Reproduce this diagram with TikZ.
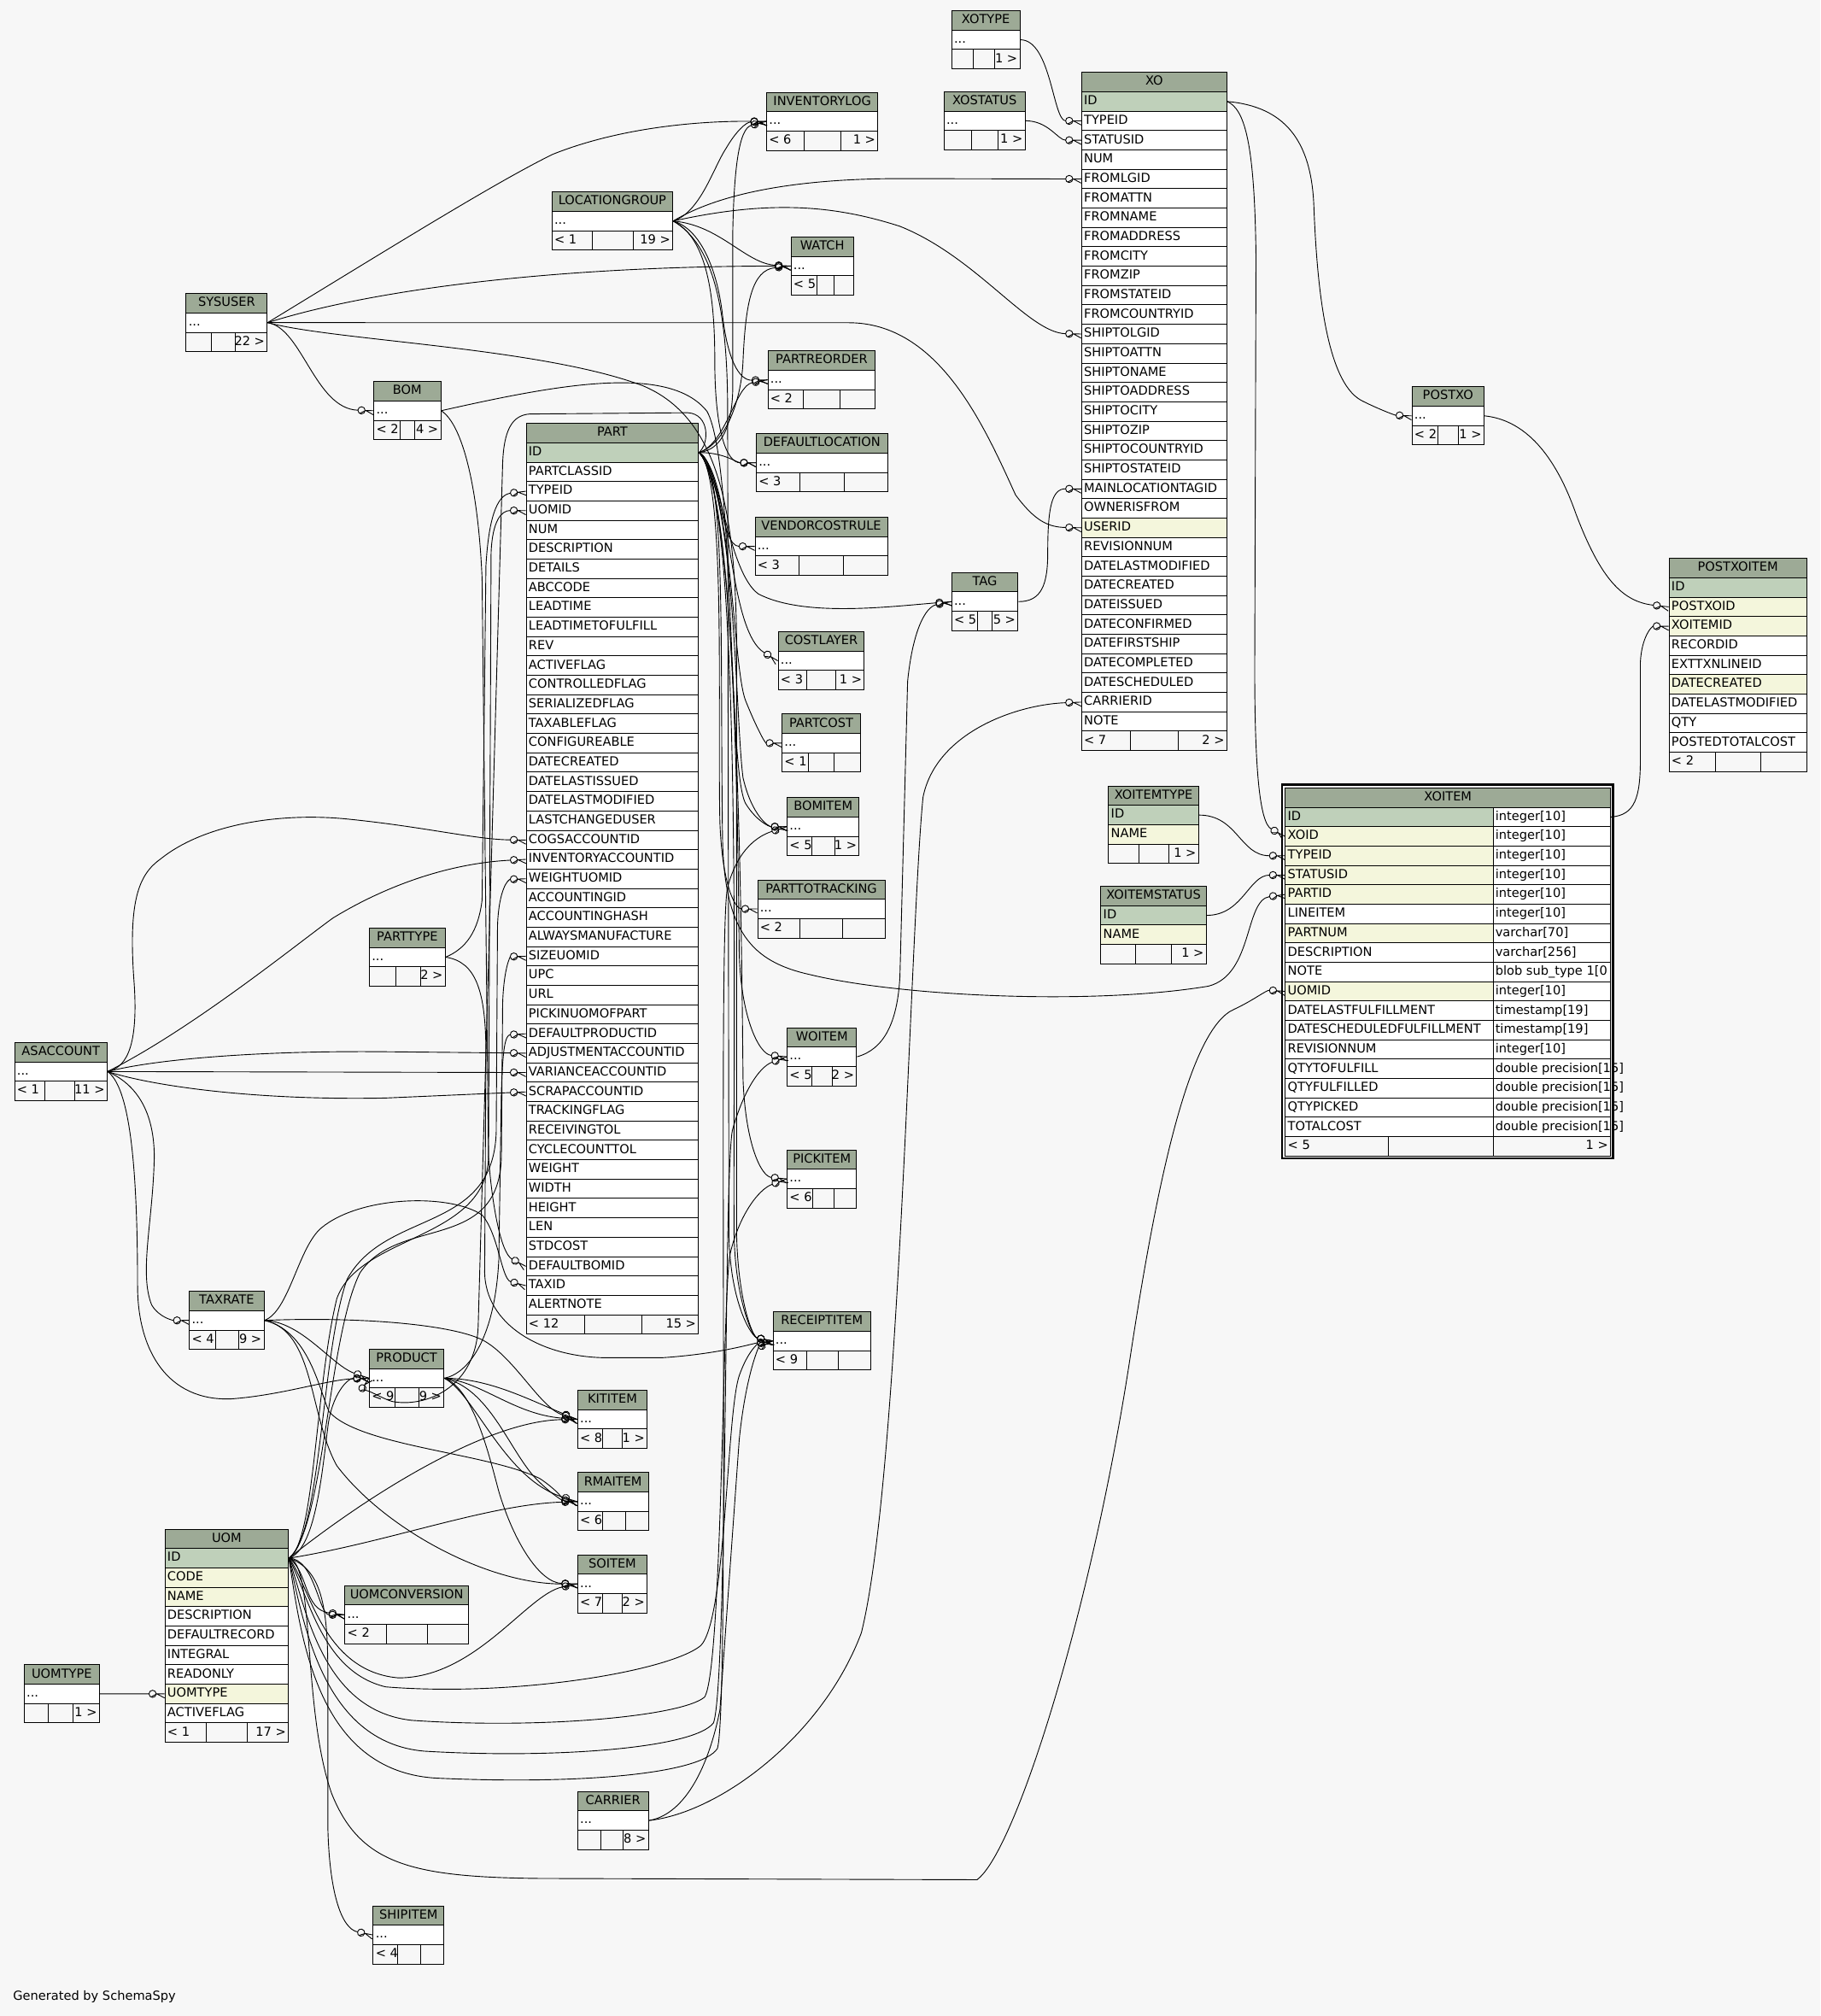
\documentclass[tikz,border=0pt]{standalone}
\usepackage{fontspec}
\setmainfont{DejaVu Sans}
\definecolor{bgc}{HTML}{F7F7F7}
\definecolor{hdc}{HTML}{9DAA96}
\definecolor{pkc}{HTML}{BFD0BA}
\definecolor{ixc}{HTML}{F4F6DC}
\tikzset{
 tb/.style={draw=black, line width=0.66pt, inner sep=0pt, minimum height=15.07pt, anchor=north west},
 txt/.style={inner sep=0pt, font=\fontsize{9.7pt}{11pt}\selectfont, text height=7.1pt, text depth=2pt},
 fk/.style={draw=black, line width=0.6pt, shorten >=12pt},
 fkm/.style={pos=1, sloped, allow upside down},
 crowfk/.pic={
   \draw[line width=0.6pt] (-9.3,0) circle[radius=2.8pt];
   \draw[line width=0.6pt] (-6.5,0) -- (0,0) (-6,0) -- (0,3.2) (-6,0) -- (0,-3.2);}
}
\newcommand\tfoot[9]{%
 \pgfmathsetmacro\fy{#3+15.07*(#5+1)}%
 \node[tb, fill=bgc, minimum width=#4pt] (#1-foot) at (#2,\fy) {};
 \draw[line width=0.66pt] ({#2+#6*#4},\fy) -- ++(0,15.07) ({#2+#7*#4},\fy) -- ++(0,15.07);
 \node[txt, anchor=west] (#1-fl) at ([xshift=2pt]#1-foot.west) {#8};
 \node[txt, anchor=east] (#1-fr) at ([xshift=-2pt]#1-foot.east) {#9};
}
\newcommand\stbl[8]{%
 \node[tb, fill=hdc, minimum width=#4pt] (#1) at (#2,#3) {};
 \node[txt] (#1-t) at (#1.center) {#1};
 \node[tb, fill=white, minimum width=#4pt] (#1-r) at (#2,{#3+15.07}) {};
 \node[txt, anchor=west] (#1-r-t) at ([xshift=2pt]#1-r.west) {...};
 \tfoot{#1}{#2}{#3}{#4}{1}{#5}{#6}{#7}{#8}%
}
\newcommand\tbl[6]{%
 \node[tb, fill=hdc, minimum width=#4pt] (#1) at (#2,#3) {};
 \node[txt] (#1-t) at (#1.center) {#5};
 \foreach \rk/\rc [count=\ri] in {#6} {
  \node[tb, fill=\rc, minimum width=#4pt] (#1-\rk) at (#2,{#3+15.07*\ri}) {};
  \node[txt, anchor=west] (#1-\rk-t) at ([xshift=2pt]#1-\rk.west) {\rk};
 }
}
\begin{document}
\begin{tikzpicture}[x=1pt,y=-1pt]
\fill[bgc] (0,0) rectangle (1416,1568);
\useasboundingbox (0,0) rectangle (1416,1568);

% ---------------- tables ----------------
\stbl{XOTYPE}{740}{8}{53}{.328}{.63}{}{1 >}
\stbl{XOSTATUS}{734}{71}{63}{.34}{.674}{}{1 >}
\stbl{INVENTORYLOG}{596}{71.5}{86.5}{.338}{.669}{< 6}{1 >}
\stbl{LOCATIONGROUP}{429}{149}{94}{.341}{.674}{< 1}{19 >}
\stbl{WATCH}{615}{184}{48.5}{.419}{.703}{< 5}{}
\stbl{SYSUSER}{144.5}{228}{63}{.318}{.613}{}{22 >}
\stbl{PARTREORDER}{597}{272.5}{83.5}{.336}{.672}{< 2}{}
\stbl{BOM}{290.5}{296.5}{52}{.401}{.613}{< 2}{4 >}
\stbl{POSTXO}{1098}{300.5}{56}{.365}{.656}{< 2}{1 >}
\stbl{DEFAULTLOCATION}{588}{337}{102}{.338}{.671}{< 3}{}
\stbl{VENDORCOSTRULE}{587}{402}{103}{.338}{.671}{< 3}{}
\stbl{TAG}{740}{445}{51.5}{.402}{.615}{< 5}{5 >}
\stbl{COSTLAYER}{605}{491}{67}{.337}{.676}{< 3}{1 >}
\stbl{PARTCOST}{608}{555}{61}{.344}{.67}{< 1}{}
\stbl{BOMITEM}{612}{620}{56}{.353}{.667}{< 5}{1 >}
\stbl{PARTTOTRACKING}{589}{684}{99}{.336}{.674}{< 2}{}
\stbl{PARTTYPE}{287}{721.5}{59}{.35}{.677}{}{2 >}
\stbl{WOITEM}{612}{799}{54}{.361}{.659}{< 5}{2 >}
\stbl{ASACCOUNT}{11}{810.5}{72}{.333}{.659}{< 1}{11 >}
\stbl{PICKITEM}{612}{894}{54}{.369}{.683}{< 6}{}
\stbl{TAXRATE}{147}{1004}{58}{.356}{.668}{< 4}{9 >}
\stbl{RECEIPTITEM}{601}{1020}{76}{.345}{.671}{< 9}{}
\stbl{PRODUCT}{287}{1049}{58}{.35}{.67}{< 9}{9 >}
\stbl{KITITEM}{449}{1081}{54}{.364}{.647}{< 8}{1 >}
\stbl{RMAITEM}{449}{1145}{55}{.356}{.681}{< 6}{}
\stbl{SOITEM}{449}{1209}{54}{.364}{.647}{< 7}{2 >}
\stbl{UOMCONVERSION}{268}{1233}{96}{.338}{.671}{< 2}{}
\stbl{UOMTYPE}{18.5}{1294.5}{58.5}{.33}{.66}{}{1 >}
\stbl{CARRIER}{449}{1393}{55}{.33}{.644}{}{8 >}
\stbl{SHIPITEM}{290}{1482}{55}{.355}{.677}{< 4}{}

\tbl{XOITEMTYPE}{862}{611}{70}{XOITEMTYPE}{ID/pkc, NAME/ixc}
\tfoot{XOITEMTYPE}{862}{611}{70}{2}{.34}{.673}{}{1 >}
\tbl{XOITEMSTATUS}{856}{689}{82}{XOITEMSTATUS}{ID/pkc, NAME/ixc}
\tfoot{XOITEMSTATUS}{856}{689}{82}{2}{.336}{.672}{}{1 >}

\tbl{UOM}{128}{1189}{96}{UOM}{ID/pkc, CODE/ixc, NAME/ixc, DESCRIPTION/white, DEFAULTRECORD/white, INTEGRAL/white, READONLY/white, UOMTYPE/ixc, ACTIVEFLAG/white}
\tfoot{UOM}{128}{1189}{96}{9}{.336}{.668}{< 1}{17 >}

\tbl{POSTXOITEM}{1298}{434}{107}{POSTXOITEM}{ID/pkc, POSTXOID/ixc, XOITEMID/ixc, RECORDID/white, EXTTXNLINEID/white, DATECREATED/ixc, DATELASTMODIFIED/white, QTY/white, POSTEDTOTALCOST/white}
\tfoot{POSTXOITEM}{1298}{434}{107}{9}{.34}{.67}{< 2}{}

\tbl{XO}{841}{56}{113}{XO}{ID/pkc, TYPEID/white, STATUSID/white, NUM/white, FROMLGID/white, FROMATTN/white, FROMNAME/white, FROMADDRESS/white, FROMCITY/white, FROMZIP/white, FROMSTATEID/white, FROMCOUNTRYID/white, SHIPTOLGID/white, SHIPTOATTN/white, SHIPTONAME/white, SHIPTOADDRESS/white, SHIPTOCITY/white, SHIPTOZIP/white, SHIPTOCOUNTRYID/white, SHIPTOSTATEID/white, MAINLOCATIONTAGID/white, OWNERISFROM/white, USERID/ixc, REVISIONNUM/white, DATELASTMODIFIED/white, DATECREATED/white, DATEISSUED/white, DATECONFIRMED/white, DATEFIRSTSHIP/white, DATECOMPLETED/white, DATESCHEDULED/white, CARRIERID/white, NOTE/white}
\tfoot{XO}{841}{56}{113}{33}{.34}{.67}{< 7}{2 >}

\tbl{PART}{409}{329}{134}{PART}{ID/pkc, PARTCLASSID/white, TYPEID/white, UOMID/white, NUM/white, DESCRIPTION/white, DETAILS/white, ABCCODE/white, LEADTIME/white, LEADTIMETOFULFILL/white, REV/white, ACTIVEFLAG/white, CONTROLLEDFLAG/white, SERIALIZEDFLAG/white, TAXABLEFLAG/white, CONFIGUREABLE/white, DATECREATED/white, DATELASTISSUED/white, DATELASTMODIFIED/white, LASTCHANGEDUSER/white, COGSACCOUNTID/white, INVENTORYACCOUNTID/white, WEIGHTUOMID/white, ACCOUNTINGID/white, ACCOUNTINGHASH/white, ALWAYSMANUFACTURE/white, SIZEUOMID/white, UPC/white, URL/white, PICKINUOMOFPART/white, DEFAULTPRODUCTID/white, ADJUSTMENTACCOUNTID/white, VARIANCEACCOUNTID/white, SCRAPACCOUNTID/white, TRACKINGFLAG/white, RECEIVINGTOL/white, CYCLECOUNTTOL/white, WEIGHT/white, WIDTH/white, HEIGHT/white, LEN/white, STDCOST/white, DEFAULTBOMID/white, TAXID/white, ALERTNOTE/white}
\tfoot{PART}{409}{329}{134}{45}{.34}{.673}{< 12}{15 >}

% XOITEM (two columns, double frame)
\draw[line width=1.5pt] (997.2,610.2) rectangle (1254.8,901.1);
\node[tb, fill=hdc, minimum width=253pt] (XOITEM) at (999.5,612.5) {};
\node[txt] (XOITEM-t) at (XOITEM.center) {XOITEM};
\foreach \rk/\rc/\ty [count=\ri] in {ID/pkc/integer[10], XOID/ixc/integer[10], TYPEID/ixc/integer[10], STATUSID/ixc/integer[10], PARTID/ixc/integer[10], LINEITEM/white/integer[10], PARTNUM/ixc/varchar[70], DESCRIPTION/white/varchar[256], NOTE/white/blob sub\_type 1[0, UOMID/ixc/integer[10], DATELASTFULFILLMENT/white/timestamp[19], DATESCHEDULEDFULFILLMENT/white/timestamp[19], REVISIONNUM/white/integer[10], QTYTOFULFILL/white/double precision[15], QTYFULFILLED/white/double precision[15], QTYPICKED/white/double precision[15], TOTALCOST/white/double precision[15]} {
 \node[tb, fill=\rc, minimum width=162pt] (XOITEM-\rk) at (999.5,{612.5+15.07*\ri}) {};
 \node[txt, anchor=west] (XOITEM-\rk-t) at ([xshift=2pt]XOITEM-\rk.west) {\rk};
 \node[tb, fill=white, minimum width=91pt] (XOITEM-\rk-ty) at (1161.5,{612.5+15.07*\ri}) {};
 \node[txt, anchor=west] (XOITEM-\rk-tyt) at ([xshift=1.5pt]XOITEM-\rk-ty.west) {\ty};
}
\tfoot{XOITEM}{999.5}{612.5}{253}{17}{.318}{.6403}{< 5}{1 >}

% ---------------- connectors ----------------
% XO area
\draw[fk] (XOTYPE-r.east) .. controls +(24,0) and +(-22,0) .. (XO-TYPEID.west) pic[fkm]{crowfk};
\draw[fk] (XOSTATUS-r.east) .. controls +(18,0) and +(-18,0) .. (XO-STATUSID.west) pic[fkm]{crowfk};
\draw[fk] (LOCATIONGROUP-r.east) .. controls (560,150) and (620,139) .. (700,138.9) -- (XO-FROMLGID.west) pic[fkm]{crowfk};
\draw[fk] (LOCATIONGROUP-r.east) .. controls (600,155) and (650,160) .. (700,176) .. controls (760,200) and (800,259) .. (XO-SHIPTOLGID.west) pic[fkm]{crowfk};
\draw[fk] (SYSUSER-r.east) -- (660,251) .. controls (730,251) and (765,330) .. (790,385) .. controls (805,405) and (815,410) .. (XO-USERID.west) pic[fkm]{crowfk};
\draw[fk] (TAG-r.east) .. controls (810,468) and (815,455) .. (815,430) .. controls (815,395) and (818,380) .. (XO-MAINLOCATIONTAGID.west) pic[fkm]{crowfk};
\draw[fk] (CARRIER-r.east) .. controls (560,1410) and (640,1350) .. (670,1270) .. controls (700,1150) and (708,720) .. (718,620) .. controls (728,570) and (790,548) .. (XO-CARRIERID.west) pic[fkm]{crowfk};
\draw[fk] (XO-ID.east) .. controls (1000,83) and (1020,110) .. (1022,160) .. controls (1025,240) and (1035,300) .. (1060,312) .. controls (1072,318) and (1085,323) .. (POSTXO-r.west) pic[fkm]{crowfk};
\draw[fk] (XO-ID.east) .. controls (968,85) and (976,110) .. (977,200) -- (976,520) .. controls (976,600) and (980,640) .. (XOITEM-XOID.west) pic[fkm]{crowfk};
\draw[fk] (POSTXO-r.east) .. controls (1190,327) and (1212,360) .. (1226,400) .. controls (1245,450) and (1262,468) .. (POSTXOITEM-POSTXOID.west) pic[fkm]{crowfk};
\draw[fk] (XOITEM-ID-ty.east) .. controls (1272,634) and (1276,620) .. (1276,590) -- (1276,515) .. controls (1277,495) and (1285,487) .. (POSTXOITEM-XOITEMID.west) pic[fkm]{crowfk};
\draw[fk] (XOITEMTYPE-ID.east) .. controls +(30,0) and +(-35,0) .. (XOITEM-TYPEID.west) pic[fkm]{crowfk};
\draw[fk] (XOITEMSTATUS-ID.east) .. controls +(28,0) and +(-28,0) .. (XOITEM-STATUSID.west) pic[fkm]{crowfk};
\draw[fk] (PART-ID.east) .. controls (565,360) and (560,500) .. (562,650) .. controls (563,725) and (585,748) .. (630,758) .. controls (700,775) and (850,782) .. (940,767) .. controls (975,758) and (968,700) .. (XOITEM-PARTID.west) pic[fkm]{crowfk};
\draw[fk] (UOM-ID.east) .. controls (245,1215) and (235,1330) .. (258,1395) .. controls (280,1450) and (320,1460) .. (420,1461) -- (760,1462) .. controls (790,1440) and (850,1250) .. (880,1050) .. controls (900,920) and (925,800) .. (960,785) .. controls (975,778) and (985,770) .. (XOITEM-UOMID.west) pic[fkm]{crowfk};
\draw[fk] (WOITEM-r.east) .. controls (688,816) and (698,795) .. (700,760) -- (706,530) .. controls (710,490) and (720,472) .. (TAG-r.west) pic[fkm]{crowfk};

% SYSUSER / LOCATIONGROUP
\draw[fk] (SYSUSER-r.east) .. controls (300,195) and (385,142) .. (430,120) .. controls (480,100) and (540,94) .. (INVENTORYLOG-r.west) pic[fkm]{crowfk};
\draw[fk] (SYSUSER-r.east) .. controls (300,222) and (450,207) .. (WATCH-r.west) pic[fkm]{crowfk};
\draw[fk] (SYSUSER-r.east) .. controls (235,255) and (245,318) .. (BOM-r.west) pic[fkm]{crowfk};
\draw[fk] (SYSUSER-r.east) .. controls (260,265) and (420,270) .. (500,300) .. controls (560,325) and (572,400) .. (573,500) -- (573,960) .. controls (574,1010) and (585,1040) .. (RECEIPTITEM-r.west) pic[fkm]{crowfk};
\draw[fk] (LOCATIONGROUP-r.east) .. controls (545,165) and (555,130) .. (565,115) .. controls (572,103) and (580,95) .. (INVENTORYLOG-r.west) pic[fkm]{crowfk};
\draw[fk] (LOCATIONGROUP-r.east) .. controls (560,175) and (580,205) .. (WATCH-r.west) pic[fkm]{crowfk};
\draw[fk] (LOCATIONGROUP-r.east) .. controls (545,178) and (558,210) .. (562,245) .. controls (566,280) and (575,296) .. (PARTREORDER-r.west) pic[fkm]{crowfk};
\draw[fk] (LOCATIONGROUP-r.east) .. controls (550,185) and (556,230) .. (556,280) .. controls (556,335) and (565,360) .. (DEFAULTLOCATION-r.west) pic[fkm]{crowfk};
\draw[fk] (LOCATIONGROUP-r.east) .. controls (555,190) and (566,240) .. (566,320) -- (567,960) .. controls (568,1015) and (585,1040) .. (RECEIPTITEM-r.west) pic[fkm]{crowfk};

% PART fan
\draw[fk] (PART-ID.east) .. controls (562,350) and (570,330) .. (570,300) -- (570,180) .. controls (571,130) and (575,100) .. (INVENTORYLOG-r.west) pic[fkm]{crowfk};
\draw[fk] (PART-ID.east) .. controls (565,345) and (577,310) .. (578,280) .. controls (580,235) and (585,210) .. (WATCH-r.west) pic[fkm]{crowfk};
\draw[fk] (PART-ID.east) .. controls (565,345) and (572,300) .. (PARTREORDER-r.west) pic[fkm]{crowfk};
\draw[fk] (PART-ID.east) .. controls +(20,0) and +(-15,0) .. (DEFAULTLOCATION-r.west) pic[fkm]{crowfk};
\draw[fk] (PART-ID.east) .. controls (560,360) and (560,425) .. (VENDORCOSTRULE-r.west) pic[fkm]{crowfk};
\draw[fk] (PART-ID.east) .. controls (560,360) and (566,445) .. (590,462) .. controls (625,480) and (690,472) .. (TAG-r.west) pic[fkm]{crowfk};
\draw[fk] (PART-ID.east) .. controls (570,370) and (565,490) .. (COSTLAYER-r.west) pic[fkm]{crowfk};
\draw[fk] (PART-ID.east) .. controls (570,380) and (570,520) .. (580,545) .. controls (588,565) and (595,578) .. (PARTCOST-r.west) pic[fkm]{crowfk};
\draw[fk] (PART-ID.east) .. controls (572,380) and (572,560) .. (578,605) .. controls (585,635) and (598,643) .. (BOMITEM-r.west) pic[fkm]{crowfk};
\draw[fk] (PART-ID.east) .. controls (565,370) and (558,550) .. (560,640) .. controls (562,690) and (572,707) .. (PARTTOTRACKING-r.west) pic[fkm]{crowfk};
\draw[fk] (PART-ID.east) .. controls (572,380) and (574,650) .. (575,740) .. controls (576,790) and (590,820) .. (WOITEM-r.west) pic[fkm]{crowfk};
\draw[fk] (PART-ID.east) .. controls (575,380) and (577,750) .. (578,840) .. controls (580,890) and (592,915) .. (PICKITEM-r.west) pic[fkm]{crowfk};
\draw[fk] (PART-ID.east) .. controls (578,380) and (570,800) .. (571,960) .. controls (572,1010) and (585,1040) .. (RECEIPTITEM-r.west) pic[fkm]{crowfk};
\draw[fk] (PART-ID.east) .. controls (552,345) and (552,322) .. (535,321) -- (412,322) .. controls (398,323) and (392,335) .. (391,360) -- (372,1030) .. controls (371,1080) and (330,1095) .. (305,1090) .. controls (295,1087) and (283,1078) .. (PRODUCT-r.west) pic[fkm]{crowfk};

% BOM, PARTTYPE
\draw[fk] (BOM-r.east) .. controls (360,330) and (372,380) .. (375,450) -- (380,900) .. controls (383,940) and (390,975) .. (PART-DEFAULTBOMID.west) pic[fkm]{crowfk};
\draw[fk] (BOM-r.east) .. controls (430,300) and (520,282) .. (550,320) .. controls (572,360) and (566,600) .. (580,625) .. controls (588,638) and (598,643) .. (BOMITEM-r.west) pic[fkm]{crowfk};
\draw[fk] (PARTTYPE-r.east) .. controls (362,738) and (372,725) .. (375,700) -- (378,440) .. controls (380,405) and (386,385) .. (PART-TYPEID.west) pic[fkm]{crowfk};
\draw[fk] (PARTTYPE-r.east) .. controls (370,748) and (378,770) .. (378,820) -- (377,990) .. controls (378,1030) and (420,1055) .. (470,1056) -- (515,1056) .. controls (560,1053) and (585,1045) .. (RECEIPTITEM-r.west) pic[fkm]{crowfk};

% ASACCOUNT
\draw[fk] (ASACCOUNT-r.east) .. controls (100,830) and (108,810) .. (104,760) .. controls (100,700) and (108,680) .. (125,668) .. controls (160,640) and (220,632) .. (270,637) .. controls (330,643) and (370,653) .. (PART-COGSACCOUNTID.west) pic[fkm]{crowfk};
\draw[fk] (ASACCOUNT-r.east) .. controls (150,800) and (230,735) .. (259,714) .. controls (290,695) and (340,672) .. (PART-INVENTORYACCOUNTID.west) pic[fkm]{crowfk};
\draw[fk] (ASACCOUNT-r.east) .. controls (120,824) and (200,817) .. (300,818) -- (PART-ADJUSTMENTACCOUNTID.west) pic[fkm]{crowfk};
\draw[fk] (ASACCOUNT-r.east) -- (PART-VARIANCEACCOUNTID.west) pic[fkm]{crowfk};
\draw[fk] (ASACCOUNT-r.east) .. controls (120,845) and (200,856) .. (300,854) -- (PART-SCRAPACCOUNTID.west) pic[fkm]{crowfk};
\draw[fk] (ASACCOUNT-r.east) .. controls (110,845) and (120,870) .. (120,900) .. controls (119,950) and (108,990) .. (118,1015) .. controls (124,1025) and (135,1027) .. (TAXRATE-r.west) pic[fkm]{crowfk};
\draw[fk] (ASACCOUNT-r.east) .. controls (100,845) and (107,900) .. (107,1000) .. controls (107,1050) and (130,1090) .. (180,1088) .. controls (220,1085) and (255,1073) .. (PRODUCT-r.west) pic[fkm]{crowfk};

% TAXRATE
\draw[fk] (TAXRATE-r.east) .. controls (225,1020) and (232,970) .. (250,955) .. controls (280,930) and (350,928) .. (375,945) .. controls (388,960) and (390,995) .. (PART-TAXID.west) pic[fkm]{crowfk};
\draw[fk] (TAXRATE-r.east) .. controls (235,1028) and (258,1062) .. (PRODUCT-r.west) pic[fkm]{crowfk};
\draw[fk] (TAXRATE-r.east) .. controls (280,1024) and (350,1030) .. (375,1042) .. controls (400,1055) and (420,1095) .. (KITITEM-r.west) pic[fkm]{crowfk};
\draw[fk] (TAXRATE-r.east) .. controls (240,1035) and (248,1080) .. (256,1098) .. controls (280,1125) and (380,1130) .. (420,1150) .. controls (432,1158) and (440,1167) .. (RMAITEM-r.west) pic[fkm]{crowfk};
\draw[fk] (TAXRATE-r.east) .. controls (245,1035) and (240,1100) .. (262,1140) .. controls (300,1190) and (380,1232) .. (SOITEM-r.west) pic[fkm]{crowfk};

% PRODUCT
\draw[fk] (PRODUCT-r.east) .. controls (365,1068) and (385,1040) .. (388,980) -- (390,850) .. controls (391,815) and (393,805) .. (PART-DEFAULTPRODUCTID.west) pic[fkm]{crowfk};
\draw[fk] (PRODUCT-r.east) .. controls (380,1072) and (410,1088) .. (KITITEM-r.west) pic[fkm]{crowfk};
\draw[fk] (PRODUCT-r.east) .. controls (375,1075) and (400,1100) .. (KITITEM-r.west) pic[fkm]{crowfk};
\draw[fk] (PRODUCT-r.east) .. controls (380,1080) and (395,1125) .. (415,1148) .. controls (428,1162) and (438,1167) .. (RMAITEM-r.west) pic[fkm]{crowfk};
\draw[fk] (PRODUCT-r.east) .. controls (370,1085) and (392,1150) .. (RMAITEM-r.west) pic[fkm]{crowfk};
\draw[fk] (PRODUCT-r.east) .. controls (368,1080) and (380,1130) .. (388,1160) .. controls (400,1200) and (420,1231) .. (SOITEM-r.west) pic[fkm]{crowfk};

% UOM
\draw[fk] (UOMTYPE-r.east) -- (UOM-UOMTYPE.west) pic[fkm]{crowfk};
\draw[fk] (UOM-ID.east) .. controls (245,1200) and (245,1080) .. (262,1010) .. controls (280,960) and (378,965) .. (380,900) -- (382,430) .. controls (383,405) and (390,397) .. (PART-UOMID.west) pic[fkm]{crowfk};
\draw[fk] (UOM-ID.east) .. controls (250,1195) and (250,1050) .. (270,995) .. controls (300,940) and (384,960) .. (386,880) -- (387,720) .. controls (388,692) and (395,684) .. (PART-WEIGHTUOMID.west) pic[fkm]{crowfk};
\draw[fk] (UOM-ID.east) .. controls (252,1190) and (255,1040) .. (280,990) .. controls (310,945) and (388,975) .. (390,900) -- (391,780) .. controls (392,752) and (397,744) .. (PART-SIZEUOMID.west) pic[fkm]{crowfk};
\draw[fk] (UOM-ID.east) .. controls (245,1205) and (250,1150) .. (255,1110) .. controls (258,1085) and (270,1072) .. (PRODUCT-r.west) pic[fkm]{crowfk};
\draw[fk] (UOM-ID.east) .. controls (290,1160) and (380,1105) .. (KITITEM-r.west) pic[fkm]{crowfk};
\draw[fk] (UOM-ID.east) .. controls (300,1200) and (380,1170) .. (RMAITEM-r.west) pic[fkm]{crowfk};
\draw[fk] (UOM-ID.east) .. controls (240,1230) and (250,1300) .. (310,1305) .. controls (370,1305) and (410,1240) .. (SOITEM-r.west) pic[fkm]{crowfk};
\draw[fk] (UOM-ID.east) .. controls +(20,0) and +(-20,0) .. (UOMCONVERSION-r.west) pic[fkm]{crowfk};
\draw[fk] (UOM-ID.east) .. controls (240,1222) and (236,1252) .. (UOMCONVERSION-r.west) pic[fkm]{crowfk};
\draw[fk] (UOM-ID.east) .. controls (250,1220) and (255,1250) .. (255,1300) -- (255,1420) .. controls (256,1470) and (265,1500) .. (SHIPITEM-r.west) pic[fkm]{crowfk};
\draw[fk] (UOM-ID.east) .. controls (240,1240) and (250,1300) .. (300,1312) .. controls (400,1320) and (520,1300) .. (545,1280) .. controls (565,1260) and (565,1100) .. (575,1070) .. controls (582,1050) and (590,1045) .. (RECEIPTITEM-r.west) pic[fkm]{crowfk};
\draw[fk] (UOM-ID.east) .. controls (238,1250) and (250,1330) .. (320,1338) .. controls (420,1345) and (530,1335) .. (548,1320) .. controls (562,1300) and (562,1000) .. (568,975) .. controls (575,945) and (590,925) .. (PICKITEM-r.west) pic[fkm]{crowfk};
\draw[fk] (UOM-ID.east) .. controls (236,1260) and (250,1355) .. (330,1362) .. controls (430,1368) and (540,1360) .. (555,1340) .. controls (566,1310) and (563,900) .. (570,878) .. controls (578,850) and (590,830) .. (WOITEM-r.west) pic[fkm]{crowfk};
\draw[fk] (UOM-ID.east) .. controls (234,1270) and (245,1378) .. (340,1383) .. controls (450,1388) and (545,1380) .. (558,1360) .. controls (568,1330) and (558,720) .. (566,690) .. controls (574,660) and (590,650) .. (BOMITEM-r.west) pic[fkm]{crowfk};
\draw[fk] (CARRIER-r.east) .. controls (530,1412) and (550,1380) .. (560,1330) -- (575,1120) .. controls (580,1070) and (590,1048) .. (RECEIPTITEM-r.west) pic[fkm]{crowfk};

\node[txt, anchor=west] (gen) at (10,1553) {Generated by SchemaSpy};
\end{tikzpicture}
\end{document}
